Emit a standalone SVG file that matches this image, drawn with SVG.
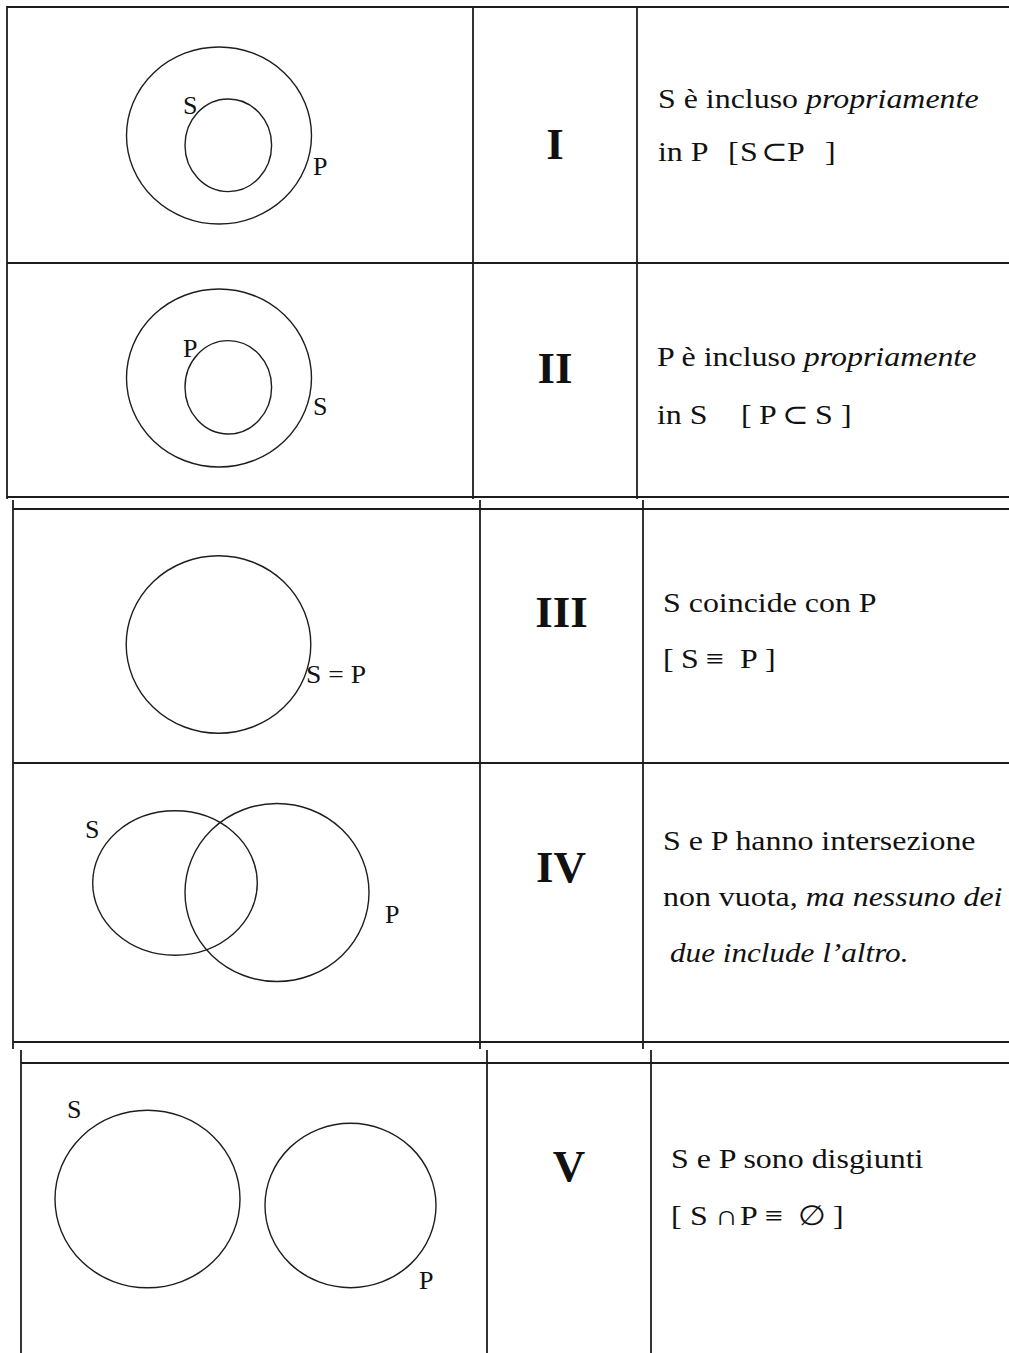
<svg xmlns="http://www.w3.org/2000/svg" width="1009" height="1353" viewBox="0 0 1009 1353">
<style>
  .grid line { stroke: #1c1c1c; stroke-width: 1.8; }
  .c { fill: none; stroke: #1e1e1e; stroke-width: 1.4; }
  .lbl { font-family: "Liberation Serif", "DejaVu Serif", serif; font-size: 26px; fill: #111; }
  .num { font-family: "Liberation Serif", "DejaVu Serif", serif; font-size: 45px; font-weight: bold; fill: #111; text-anchor: middle; }
  .txt { font-family: "Liberation Serif", "DejaVu Serif", serif; font-size: 28px; fill: #111; }
  .it { font-style: italic; }
</style>
<rect width="1009" height="1353" fill="#fff"/>
<g id="grid" class="grid">
  <line x1="7" y1="7" x2="1009" y2="7"/>
  <line x1="7" y1="263" x2="1009" y2="263"/>
  <line x1="7" y1="497" x2="1009" y2="497"/>
  <line x1="7" y1="6" x2="7" y2="499"/>
  <line x1="473" y1="6" x2="473" y2="499"/>
  <line x1="637" y1="6" x2="637" y2="499"/>
  <line x1="13" y1="509" x2="1009" y2="509"/>
  <line x1="13" y1="763" x2="1009" y2="763"/>
  <line x1="13" y1="1042" x2="1009" y2="1042"/>
  <line x1="13" y1="500" x2="13" y2="1049"/>
  <line x1="480" y1="500" x2="480" y2="1049"/>
  <line x1="643" y1="500" x2="643" y2="1049"/>
  <line x1="21" y1="1063" x2="1009" y2="1063"/>
  <line x1="21" y1="1050" x2="21" y2="1353"/>
  <line x1="487" y1="1050" x2="487" y2="1353"/>
  <line x1="651" y1="1050" x2="651" y2="1353"/>
</g>
<g id="connectors"></g>
<g id="row-I">
  <ellipse class="c" cx="219" cy="135.5" rx="92.5" ry="88.5"/>
  <ellipse class="c" cx="228.3" cy="145.3" rx="43.3" ry="46.3"/>
  <text class="lbl" x="183" y="114">S</text>
  <text class="lbl" x="313" y="175">P</text>
  <text class="num" x="555" y="159">I</text>
  <text class="txt" x="658" y="108" transform="translate(658,0) scale(1.14,1) translate(-658,0)">S è incluso <tspan class="it">propriamente</tspan></text>
  <text class="txt" y="161" transform="translate(658,0) scale(1.14,1) translate(-658,0)"><tspan x="658">in P</tspan><tspan x="719.4">[</tspan><tspan x="729.9">S</tspan><tspan x="748.4">⊂</tspan><tspan x="771.2">P</tspan><tspan x="804.5">]</tspan></text>
</g>
<g id="row-II">
  <ellipse class="c" cx="219" cy="378" rx="92.5" ry="89"/>
  <ellipse class="c" cx="228.3" cy="387.3" rx="43.3" ry="46.7"/>
  <text class="lbl" x="183" y="357">P</text>
  <text class="lbl" x="313" y="415">S</text>
  <text class="num" x="555" y="383">II</text>
  <text class="txt" x="657" y="366" transform="translate(657,0) scale(1.14,1) translate(-657,0)">P è incluso <tspan class="it">propriamente</tspan></text>
  <text class="txt" y="424" transform="translate(657,0) scale(1.14,1) translate(-657,0)"><tspan x="657">in S</tspan><tspan x="730.7">[</tspan><tspan x="746.5">P</tspan><tspan x="766.6">⊂</tspan><tspan x="795.6">S</tspan><tspan x="818.4">]</tspan></text>
</g>
<g id="row-III">
  <ellipse class="c" cx="218.5" cy="644.5" rx="92.3" ry="88.7"/>
  <text class="lbl" x="306" y="683" textLength="60" lengthAdjust="spacingAndGlyphs">S = P</text>
  <text class="num" x="561.5" y="627">III</text>
  <text class="txt" x="663" y="612" transform="translate(663,0) scale(1.14,1) translate(-663,0)">S coincide con P</text>
  <text class="txt" y="668" transform="translate(663,0) scale(1.14,1) translate(-663,0)"><tspan x="663">[</tspan><tspan x="678.8">S</tspan><tspan x="700.7">≡</tspan><tspan x="730.5">P</tspan><tspan x="752.5">]</tspan></text>
</g>
<g id="row-IV">
  <ellipse class="c" cx="175" cy="883" rx="82.3" ry="72.2"/>
  <ellipse class="c" cx="277" cy="892.5" rx="92" ry="89"/>
  <text class="lbl" x="85" y="838">S</text>
  <text class="lbl" x="385" y="923">P</text>
  <text class="num" x="561" y="882">IV</text>
  <text class="txt" x="663" y="850" transform="translate(663,0) scale(1.14,1) translate(-663,0)">S e P hanno intersezione</text>
  <text class="txt" x="663" y="906" transform="translate(663,0) scale(1.14,1) translate(-663,0)">non vuota, <tspan class="it">ma nessuno dei</tspan></text>
  <text class="txt it" x="670" y="962" transform="translate(670,0) scale(1.113,1) translate(-670,0)">due include l’altro.</text>
</g>
<g id="row-V">
  <ellipse class="c" cx="147.5" cy="1199" rx="92.5" ry="88.8"/>
  <ellipse class="c" cx="350.5" cy="1205.5" rx="85.5" ry="82.2"/>
  <text class="lbl" x="67" y="1118">S</text>
  <text class="lbl" x="419" y="1289">P</text>
  <text class="num" x="569" y="1181">V</text>
  <text class="txt" x="671" y="1168" transform="translate(671,0) scale(1.14,1) translate(-671,0)">S e P sono disgiunti</text>
  <text class="txt" y="1225" transform="translate(671,0) scale(1.14,1) translate(-671,0)"><tspan x="671">[</tspan><tspan x="687.7">S</tspan><tspan x="709.6">∩</tspan><tspan x="731.5">P</tspan><tspan x="753.5">≡</tspan><tspan x="782.4">∅</tspan><tspan x="813.1">]</tspan></text>
</g>
</svg>
